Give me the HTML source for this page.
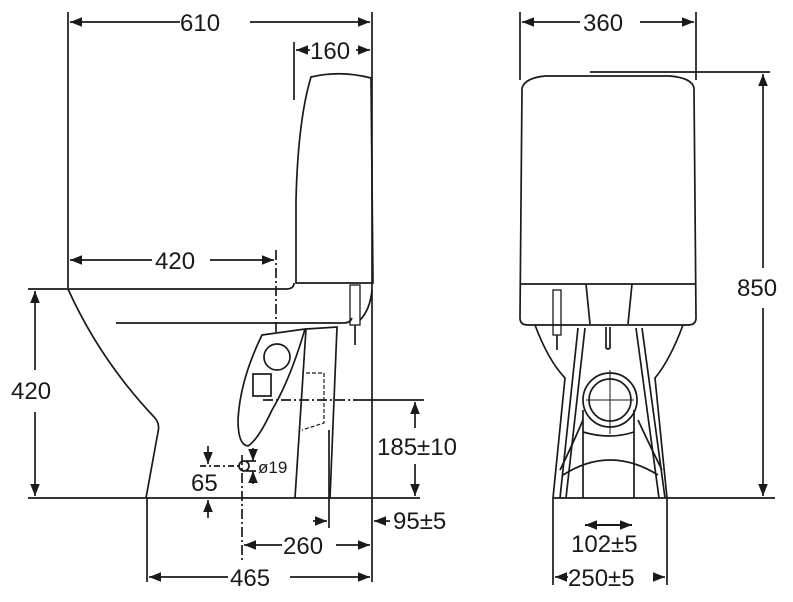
<!DOCTYPE html>
<html><head><meta charset="utf-8"><style>
html,body{margin:0;padding:0;background:#fff;}
svg{display:block;}
text{font-family:"Liberation Sans",Arial,sans-serif;font-size:24px;fill:#1a1a1a;}
</style></head><body>
<svg width="793" height="602" viewBox="0 0 793 602" xmlns="http://www.w3.org/2000/svg">
<defs>
<marker id="a" viewBox="0 0 10 10" refX="10" refY="5" markerWidth="12" markerHeight="12" markerUnits="userSpaceOnUse" orient="auto-start-reverse"><path d="M0,1 L10,5 L0,9 z" fill="#1a1a1a"/></marker>
</defs>
<g stroke="#1a1a1a" stroke-width="1.7" fill="none">
<line x1="68" y1="12" x2="68" y2="288"/>
<line x1="372" y1="12" x2="372" y2="582"/>
<line x1="294" y1="42" x2="294" y2="100"/>
<line x1="276" y1="250" x2="276" y2="335" stroke-dasharray="10,3,2,3"/>
<line x1="70" y1="22" x2="180" y2="22" marker-start="url(#a)"/>
<line x1="250" y1="22" x2="370" y2="22" marker-end="url(#a)"/>
<line x1="296" y1="50" x2="310" y2="50" marker-start="url(#a)"/>
<line x1="356" y1="50" x2="370" y2="50" marker-end="url(#a)"/>
<line x1="70" y1="260" x2="152" y2="260" marker-start="url(#a)"/>
<line x1="210" y1="260" x2="274" y2="260" marker-end="url(#a)"/>
<line x1="35" y1="291" x2="35" y2="370" marker-start="url(#a)"/>
<line x1="35" y1="412" x2="35" y2="496" marker-end="url(#a)"/>
<line x1="28" y1="289" x2="68" y2="289"/>
<path d="M296,283 L296,200 Q298,120 311,77 Q340,70 371,78 L373,283 Z"/>
<path d="M68,289 L286,289 Q294,289 294,283"/>
<path d="M68,289 Q100,360 155,418 Q160,424 158,432 L146,498"/>
<path d="M116,323 L344,323 Q350,323 352,318"/>
<path d="M372,290 Q370,310 360,320"/>
<path d="M262,335 L305,329 Q290,380 272,410 Q258,440 248,446 Q238,445 238,420 Q240,380 262,335 Z"/>
<circle cx="277" cy="357" r="13"/>
<rect x="253" y="374" width="18" height="22"/>
<path d="M306,329 L337,327 L330,498"/>
<path d="M306,329 L295,498"/>
<path d="M306,373 L324,373 L324,423 L302,430" stroke-dasharray="4,2" stroke-width="1.2"/>
<rect x="350" y="285" width="10" height="40" stroke-width="1.3"/>
<line x1="355" y1="325" x2="355" y2="345"/>
<line x1="28" y1="498" x2="420" y2="498"/>
<line x1="263" y1="400" x2="355" y2="400" stroke-dasharray="10,3,2,3"/>
<line x1="355" y1="400" x2="424" y2="400"/>
<line x1="415" y1="402" x2="415" y2="428" marker-start="url(#a)"/>
<line x1="415" y1="464" x2="415" y2="496" marker-end="url(#a)"/>
<line x1="329" y1="430" x2="329" y2="528"/>
<line x1="313" y1="521" x2="327" y2="521" marker-end="url(#a)"/>
<line x1="390" y1="521" x2="374" y2="521" marker-end="url(#a)"/>
<line x1="242" y1="455" x2="242" y2="562" stroke-dasharray="10,3,2,3"/>
<line x1="244" y1="545" x2="282" y2="545" marker-start="url(#a)"/>
<line x1="336" y1="545" x2="370" y2="545" marker-end="url(#a)"/>
<line x1="147" y1="498" x2="147" y2="582"/>
<line x1="149" y1="577" x2="228" y2="577" marker-start="url(#a)"/>
<line x1="290" y1="577" x2="370" y2="577" marker-end="url(#a)"/>
<line x1="200" y1="466" x2="240" y2="466" stroke-dasharray="6,3,2,3"/>
<circle cx="244" cy="466" r="5"/>
<line x1="208" y1="446" x2="208" y2="464" marker-end="url(#a)"/>
<line x1="208" y1="518" x2="208" y2="500" marker-end="url(#a)"/>
<line x1="253" y1="448" x2="253" y2="461" marker-end="url(#a)"/>
<line x1="253" y1="484" x2="253" y2="471" marker-end="url(#a)"/>
<line x1="246" y1="461" x2="256" y2="461"/>
<line x1="246" y1="471" x2="256" y2="471"/>

<line x1="520" y1="12" x2="520" y2="80"/>
<line x1="696" y1="12" x2="696" y2="80"/>
<line x1="522" y1="22" x2="580" y2="22" marker-start="url(#a)"/>
<line x1="640" y1="22" x2="694" y2="22" marker-end="url(#a)"/>
<path d="M522,88 Q525,78 545,76 L670,76 Q692,78 694,88 L696,318 Q696,325 688,325 L528,325 Q520,325 520,318 Z"/>
<line x1="520" y1="284" x2="696" y2="284"/>
<path d="M586,284 L590,324 M632,284 L628,324"/>
<line x1="590" y1="72" x2="770" y2="72"/>
<line x1="763" y1="74" x2="763" y2="268" marker-start="url(#a)"/>
<line x1="763" y1="308" x2="763" y2="496" marker-end="url(#a)"/>
<path d="M535,325 Q548,360 565,378 L553,498"/>
<path d="M683,325 Q670,360 655,378 L667,498"/>
<path d="M578,328 L560,498 M585,328 L566,498"/>
<path d="M642,328 L665,498 M636,328 L659,498"/>
<path d="M606,327 L606,348 Q608,350 610,348 L610,327"/>
<circle cx="610" cy="400" r="27"/>
<circle cx="610" cy="400" r="21"/>
<line x1="586" y1="400" x2="634" y2="400" stroke-width="1"/>
<line x1="610" y1="370" x2="610" y2="434" stroke-width="1"/>
<path d="M583,410 L583,498 M634,410 L634,498"/>
<path d="M583,420 Q570,450 560,470 M638,420 Q652,450 662,470"/>
<path d="M583,432 Q610,440 634,432"/>
<path d="M563,475 Q610,445 658,475"/>
<rect x="553" y="290" width="8" height="45" stroke-width="1.3"/>
<line x1="557" y1="335" x2="557" y2="350"/>
<line x1="553" y1="498" x2="775" y2="498"/>
<line x1="553" y1="498" x2="553" y2="585"/>
<line x1="667" y1="498" x2="667" y2="585"/>
<line x1="585" y1="525" x2="632" y2="525" marker-start="url(#a)" marker-end="url(#a)" stroke-width="2"/>
<line x1="555" y1="577" x2="568" y2="577" marker-start="url(#a)"/>
<line x1="653" y1="577" x2="665" y2="577" marker-end="url(#a)"/>
</g>
<text x="180" y="31">610</text>
<text x="310" y="59">160</text>
<text x="155" y="269">420</text>
<text x="11" y="399">420</text>
<text x="377" y="455">185±10</text>
<text x="393" y="529">95±5</text>
<text x="283" y="554">260</text>
<text x="230" y="586">465</text>
<text x="191" y="491">65</text>
<text x="258" y="473" style="font-size:17px">ø19</text>
<text x="583" y="31">360</text>
<text x="737" y="296">850</text>
<text x="571" y="552">102±5</text>
<text x="568" y="586">250±5</text>
</svg>
</body></html>
